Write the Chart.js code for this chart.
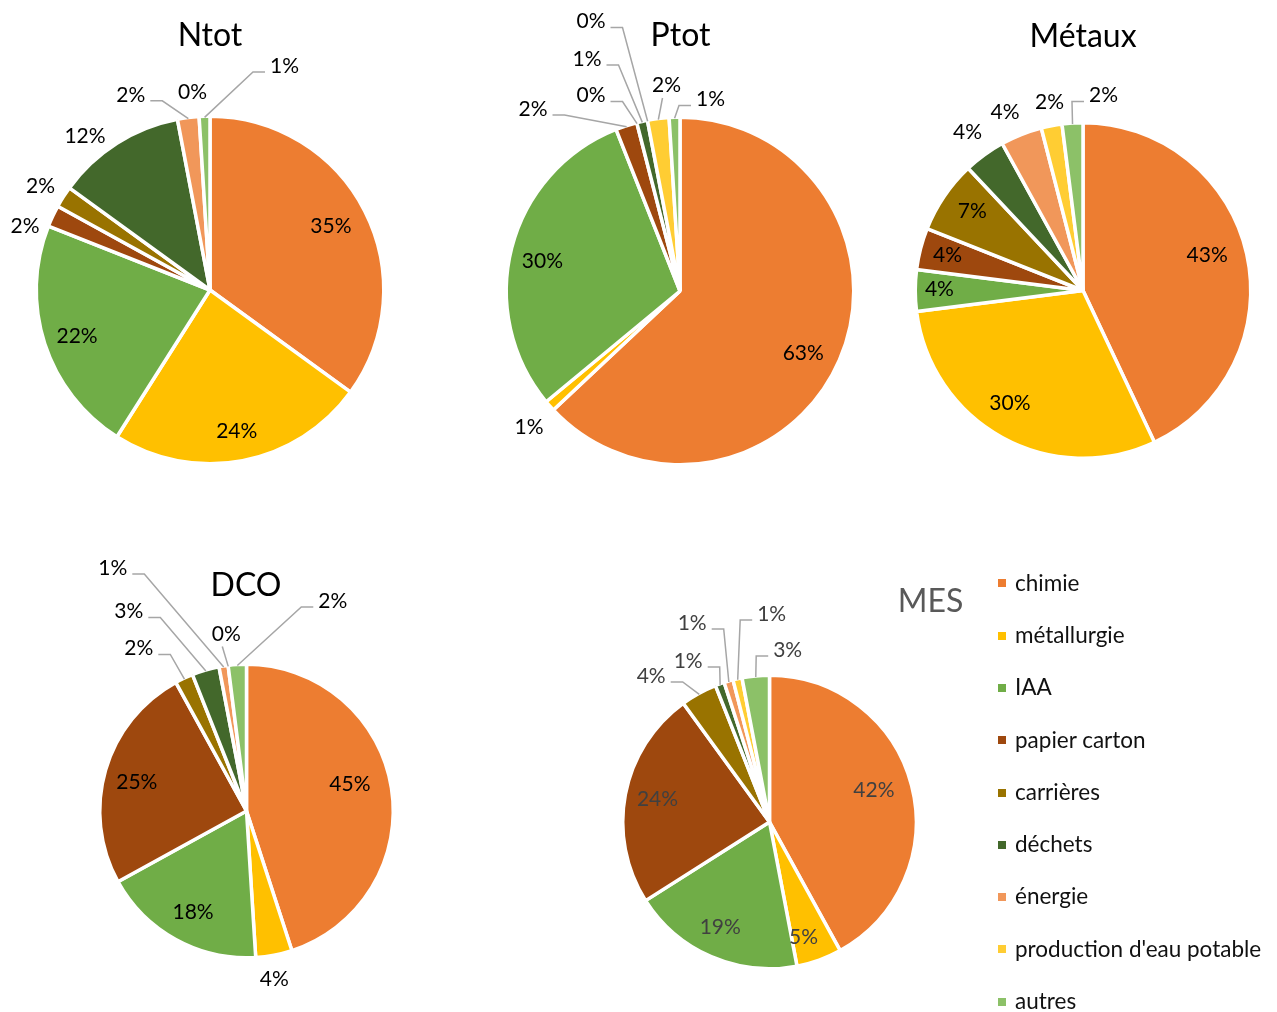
<!DOCTYPE html>
<html lang="fr">
<head>
<meta charset="utf-8">
<title>Répartition des rejets par secteur</title>
<script src="https://cdn.jsdelivr.net/npm/chart.js@4.4.1/dist/chart.umd.min.js"></script>
<style>
  html, body { margin: 0; padding: 0; background: #fff; overflow: hidden; }
  #page { position: relative; width: 1277px; height: 1012px; font-family: Lato, sans-serif; }
  #page canvas { position: absolute; }
  .lg-box { position: absolute; width: 8px; height: 8px; }
  .lg-text { position: absolute; font-size: 22.5px; line-height: 26px; color: #111; white-space: nowrap; }
</style>
</head>
<body>
<div id="page"></div>
<script>
// Sectors, in the order the slices run clockwise from 12 o'clock
const categories = ['chimie', 'métallurgie', 'IAA', 'papier carton', 'carrières', 'déchets', 'énergie', "production d'eau potable", 'autres'];
const sectorColors = ['#ED7D31', '#FFC000', '#70AD47', '#9E480E', '#997300', '#43682B', '#F1975A', '#FFCD33', '#8CC168'];

// Share of each sector (%) per pollutant
const ntot   = [35, 24, 22, 2, 2, 12, 2, 0, 1];
const ptot   = [63, 1, 30, 2, 0, 1, 0, 2, 1];
const metaux = [43, 30, 4, 4, 7, 4, 4, 2, 2];
const dco    = [45, 4, 18, 25, 2, 3, 1, 0, 2];
const mes    = [42, 5, 19, 24, 4, 1, 1, 1, 3];

// Label placement per slice:
//   [radiusFraction, angleShiftDeg]   -> inside the slice, along its mid angle
//   [dx, dy, leader]                   -> outside, offset from the pie centre; leader 'r' | 'l' | 'b' | ''
const ntotPlace = [[0.80, -1.5], [0.83, 0], [0.815, -0.5],
  [-185, -65.5, ''], [-169.5, -105, ''], [-125, -155.5, ''], [-79.2, -196.7, 'r'], [-17.5, -199.3, ''], [74.5, -225.5, 'l']];
const ptotPlace = [[0.80, 3], [-151, 134.5, ''], [0.82, -1.7],
  [-147, -183.5, 'r'], [-89, -197, 'r'], [-93, -233.5, 'r'], [-89, -271, 'r'], [-13.5, -207, 'b'], [30.5, -193, 'l']];
const metauxPlace = [[0.78, -3.9], [0.80, 4.6], [0.865, 1.3], [0.846, 0.8], [0.827, 2],
  [-115.5, -159.5, ''], [-78, -179.5, ''], [-33.5, -189.5, ''], [20.5, -196.5, 'l']];
const dcoPlace = [[0.74, -6.4], [27.8, 166.5, ''], [0.78, -0.6], [0.785, -0.7],
  [-107.7, -164, 'r'], [-117.7, -201, 'r'], [-133.7, -244.5, 'r'], [-20.2, -178.5, 'b'], [86.3, -211.5, 'l']];
const mesPlace = [[0.757, -3.5], [0.82, 3.2], [0.795, 1.9], [0.79, 1.4],
  [-118.3, -147.5, 'r'], [-81.3, -162.5, 'r'], [-77.3, -200.5, 'r'], [2.2, -209.5, 'l'], [18.2, -173.5, 'l']];

const FONT = 'Lato, sans-serif';
const TEXT_DROP = 1.5;   // canvas 'middle' sits a little above the digit centre

// Draws the percentage labels, their leader lines and the pie title
const pieLabels = {
  id: 'pieLabels',
  afterDatasetsDraw(chart, args, opts) {
    const ctx = chart.ctx;
    const meta = chart.getDatasetMeta(0);
    const values = chart.data.datasets[0].data;
    const total = values.reduce((a, b) => a + b, 0);
    ctx.save();
    ctx.font = opts.size + 'px ' + FONT;
    ctx.textAlign = 'center';
    ctx.textBaseline = 'middle';
    let cx = 0, cy = 0;
    meta.data.forEach((arc, i) => {
      const p = arc.getProps(['x', 'y', 'startAngle', 'endAngle', 'outerRadius'], true);
      cx = p.x; cy = p.y;
      const mid = (p.startAngle + p.endAngle) / 2;
      const text = Math.round(values[i] / total * 100) + '%';
      const pl = opts.place[i];
      let lx, ly;
      if (pl.length === 2) {
        const a = mid + pl[1] * Math.PI / 180;
        const r = pl[0] * (p.outerRadius - 1.75);
        lx = p.x + Math.cos(a) * r;
        ly = p.y + Math.sin(a) * r;
      } else {
        lx = p.x + pl[0];
        ly = p.y + pl[1];
        const side = pl[2];
        if (side) {
          const w = ctx.measureText(text).width;
          const er = p.outerRadius - 1;
          const ex = p.x + Math.cos(mid) * er;
          const ey = p.y + Math.sin(mid) * er;
          ctx.beginPath();
          if (side === 'r') {
            const sx = lx + w / 2 + 5, sy = ly + 7.5;
            ctx.moveTo(sx, sy); ctx.lineTo(sx + 12, sy);
          } else if (side === 'l') {
            const sx = lx - w / 2 - 5, sy = ly + 7.5;
            ctx.moveTo(sx, sy); ctx.lineTo(sx - 12, sy);
          } else {
            ctx.moveTo(lx - 4, ly + 14);
          }
          ctx.lineTo(ex, ey);
          ctx.strokeStyle = '#A6A6A6';
          ctx.lineWidth = 1.5;
          ctx.stroke();
        }
      }
      ctx.fillStyle = opts.color;
      ctx.fillText(text, lx, ly + TEXT_DROP);
    });
    ctx.font = opts.titleSize + 'px ' + FONT;
    ctx.fillStyle = opts.titleColor;
    ctx.fillText(opts.title, cx + opts.titleAt[0], cy + opts.titleAt[1] + 2);
    ctx.restore();
  }
};

const pies = [
  { title: 'Ntot',   values: ntot,   place: ntotPlace,   box: [0, 0, 420, 580],     radius: 173.75, titleAt: [0, -256],      color: '#000', titleColor: '#000' },
  { title: 'Ptot',   values: ptot,   place: ptotPlace,   box: [450, 0, 460, 582],   radius: 173.75, titleAt: [0.5, -257],    color: '#000', titleColor: '#000' },
  { title: 'Métaux', values: metaux, place: metauxPlace, box: [900, 0, 366, 581],   radius: 167.75, titleAt: [0, -255.5],    color: '#000', titleColor: '#000' },
  { title: 'DCO',    values: dco,    place: dcoPlace,    box: [0, 551, 493, 520],   radius: 146.75, titleAt: [-0.5, -227.5], color: '#000', titleColor: '#000' },
  { title: 'MES',    values: mes,    place: mesPlace,    box: [569, 582, 401, 480], radius: 146.75, titleAt: [161, -222],    color: '#404040', titleColor: '#595959' }
];

const page = document.getElementById('page');

function build() {
  pies.forEach(cfg => {
    const cv = document.createElement('canvas');
    const [left, top, w, h] = cfg.box;
    cv.width = w; cv.height = h;
    cv.style.left = left + 'px'; cv.style.top = top + 'px';
    cv.style.width = w + 'px'; cv.style.height = h + 'px';
    page.appendChild(cv);
    new Chart(cv, {
      type: 'pie',
      data: {
        labels: categories,
        datasets: [{
          data: cfg.values,
          backgroundColor: sectorColors,
          borderColor: '#ffffff',
          borderWidth: 3.5,
          hoverOffset: 0,
          radius: cfg.radius
        }]
      },
      options: {
        responsive: false,
        animation: false,
        devicePixelRatio: 1,
        events: [],
        radius: cfg.radius,
        layout: { padding: 0 },
        plugins: {
          legend: { display: false },
          tooltip: { enabled: false },
          title: { display: false },
          pieLabels: {
            place: cfg.place, size: 21, color: cfg.color,
            title: cfg.title, titleAt: cfg.titleAt, titleSize: 32, titleColor: cfg.titleColor
          }
        }
      },
      plugins: [pieLabels]
    });
  });

  // Legend of the sectors
  categories.forEach((name, i) => {
    const yc = 583.3 + i * 52.3;
    const box = document.createElement('div');
    box.className = 'lg-box';
    box.style.left = '998px';
    box.style.top = (yc - 4) + 'px';
    box.style.background = sectorColors[i];
    page.appendChild(box);
    const t = document.createElement('div');
    t.className = 'lg-text';
    t.style.left = '1015px';
    t.style.top = (yc - 13.7) + 'px';
    t.textContent = name;
    page.appendChild(t);
  });
}

if (document.fonts && document.fonts.load) {
  Promise.all([document.fonts.load('21px Lato'), document.fonts.load('32px Lato')]).then(build, build);
} else {
  build();
}
</script>
</body>
</html>
